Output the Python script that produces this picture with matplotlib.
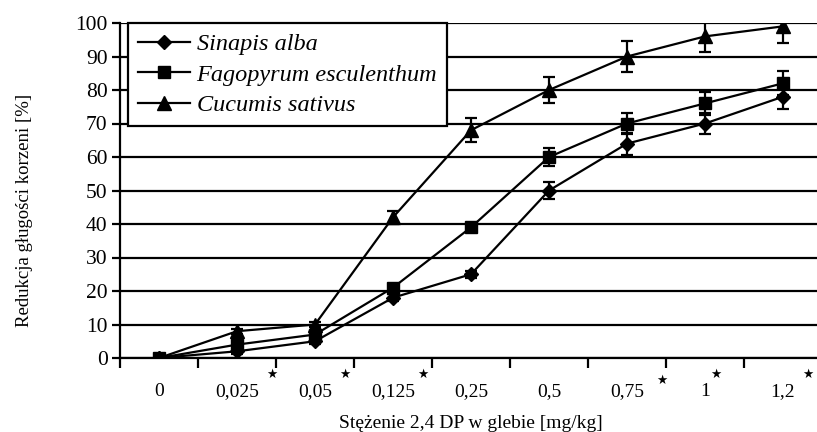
import matplotlib
matplotlib.use("Agg")
import matplotlib.pyplot as plt
from matplotlib.ticker import FixedLocator

# ---- data ----
categories = ["0", "0,025", "0,05", "0,125", "0,25", "0,5", "0,75", "1", "1,2"]
sinapis = [0, 2, 5, 18, 25, 50, 64, 70, 78]
sinapis_err = [0, 0.8, 0.8, 1.0, 1.0, 2.5, 3.3, 3.0, 3.6]
fagopyrum = [0, 4, 7, 21, 39, 60, 70, 76, 82]
fagopyrum_err = [0, 0.8, 0.8, 1.0, 0.5, 2.7, 3.2, 3.4, 3.6]
cucumis = [0, 8, 10, 42, 68, 80, 90, 96, 99]
cucumis_err = [0, 0.8, 0.8, 2.0, 3.5, 3.9, 4.5, 4.8, 5.0]
series_names = ["Sinapis alba", "Fagopyrum esculenthum", "Cucumis sativus"]
star_after = [1, 2, 3, 6, 7, 8]          # categories followed by a significance star
y_ticks = list(range(0, 101, 10))

serif = ["Liberation Serif", "DejaVu Serif"]

fig = plt.figure(figsize=(8.17, 4.32), dpi=100)
W, H = 817, 432
ax = fig.add_axes([120 / W, 74 / H, 702 / W, 335 / H])

x = list(range(len(categories)))
lw = 1.6
common = dict(color="black", lw=lw, capsize=4.5, capthick=lw, elinewidth=lw, zorder=3)
c1 = ax.errorbar(x, sinapis, yerr=sinapis_err, marker="D", ms=7.5, **common)
c2 = ax.errorbar(x, fagopyrum, yerr=fagopyrum_err, marker="s", ms=9, **common)
c3 = ax.errorbar(x, cucumis, yerr=cucumis_err, marker="^", ms=10, **common)

ax.set_xlim(-0.5, len(categories) - 0.5)
ax.set_ylim(0, 100)

ax.set_yticks(y_ticks)
ax.yaxis.grid(True, color="black", lw=lw)
ax.set_axisbelow(True)
ax.tick_params(axis="y", direction="out", length=6, width=lw, labelsize=15.5, pad=3)

ax.set_xticks(x)
ax.set_xticklabels(categories)
ax.xaxis.set_minor_locator(FixedLocator([i - 0.5 for i in range(len(categories) + 1)]))
ax.tick_params(axis="x", which="major", length=0, labelsize=14, pad=18)
ax.tick_params(axis="x", which="minor", direction="out", length=7, width=lw)

for lab in ax.get_xticklabels() + ax.get_yticklabels():
    lab.set_family(serif)

for side in ["top", "right"]:
    ax.spines[side].set_visible(False)
for side in ["left", "bottom"]:
    ax.spines[side].set_linewidth(lw)

# significance stars, placed just after each marked tick label
tr = ax.get_xaxis_transform()
star_dx = {1: 0.45, 2: 0.38, 3: 0.38, 6: 0.45, 7: 0.14, 8: 0.32}
star_y = {1: -0.048, 2: -0.048, 3: -0.048, 6: -0.066, 7: -0.048, 8: -0.048}
for i in star_after:
    ax.text(i + star_dx[i], star_y[i], "★", transform=tr, ha="center", va="center",
            fontsize=9, family="DejaVu Sans", clip_on=False)

ax.set_xlabel("Stężenie 2,4 DP w glebie [mg/kg]", fontsize=14, family=serif)
ax.xaxis.set_label_coords(0.5, -0.17)
ax.set_ylabel("Redukcja gługości korzeni [%]", fontsize=13.5, family=serif)
ax.yaxis.set_label_coords(-0.124, 0.44)

leg = ax.legend(handles=[c1[0], c2[0], c3[0]], labels=series_names,
                loc="upper left", bbox_to_anchor=(8 / 702, 1.0), borderaxespad=0,
                prop={"family": serif, "style": "italic", "size": 17.5},
                frameon=True, fancybox=False, framealpha=1, edgecolor="black",
                handlelength=2.15, handletextpad=0.25, labelspacing=0.35, borderpad=0.42)
leg.get_frame().set_linewidth(lw)
leg.set_zorder(5)

fig.savefig("out.png", dpi=100)
